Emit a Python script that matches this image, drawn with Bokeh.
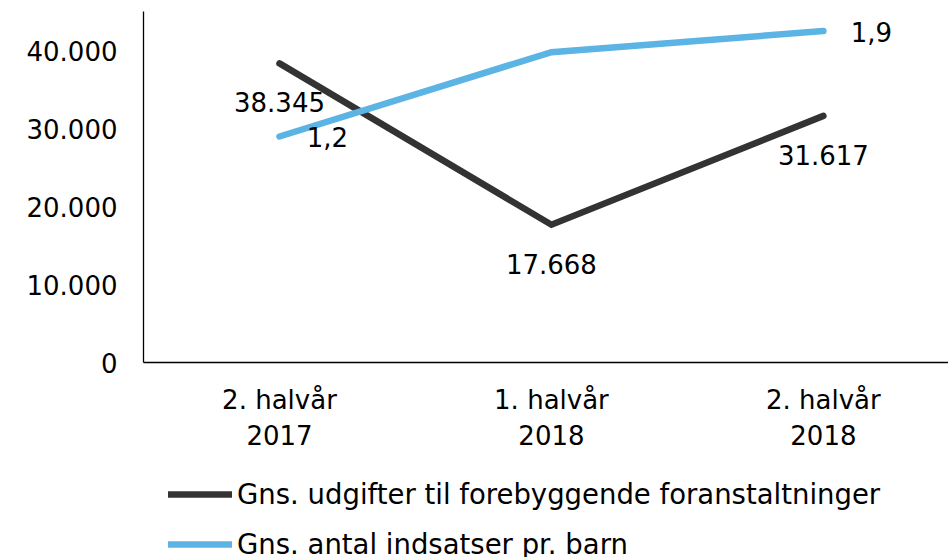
from bokeh.plotting import figure
from bokeh.layouts import column
from bokeh.models import (Range1d, FixedTicker, Legend, LegendItem,
                          ColumnDataSource, LabelSet)
from bokeh.core.properties import value
from bokeh.embed import file_html
from bokeh.resources import INLINE

categories = ["2. halvår\n2017", "1. halvår\n2018", "2. halvår\n2018"]
udgifter = [38345, 17668, 31617]
udgifter_labels = ["38.345", "17.668", "31.617"]
indsatser = [1.2, 1.76, 1.9]
indsatser_labels = ["1,2", "", "1,9"]
y_ticks = [0, 10000, 20000, 30000, 40000]
y_tick_labels = ["0", "10.000", "20.000", "30.000", "40.000"]
series_names = ["Gns. udgifter til forebyggende foranstaltninger",
                "Gns. antal indsatser pr. barn"]

FONT = "DejaVu Sans"
BLACK = "#333333"
BLUE = "#5BB4E4"
LW = 6.5

xs = [i + 0.5 for i in range(len(categories))]

p = figure(width=948, height=465, output_backend="svg", toolbar_location=None,
           x_range=Range1d(0, 2.96), y_range=Range1d(0, 45000),
           min_border_left=143, min_border_right=0, min_border_top=11,
           min_border_bottom=103)
p.extra_y_ranges = {"right": Range1d(-0.3007, 2.030)}
p.outline_line_color = None
p.xgrid.visible = False
p.ygrid.visible = False
p.background_fill_color = "white"
p.border_fill_color = "white"

src1 = ColumnDataSource(dict(x=xs, y=udgifter, lab=udgifter_labels))
src2 = ColumnDataSource(dict(x=xs, y=indsatser, lab=indsatser_labels))

p.line("x", "y", source=src1, line_color=BLACK, line_width=LW,
       line_cap="round", line_join="miter")
p.line("x", "y", source=src2, line_color=BLUE, line_width=LW,
       line_cap="round", line_join="miter", y_range_name="right")

l1 = LabelSet(x="x", y="y", text="lab", source=src1, y_offset=-39,
              text_align="center", text_baseline="middle",
              text_font=value(FONT), text_font_size=value("26px"),
              text_color="black")
l2 = LabelSet(x="x", y="y", text="lab", source=src2, x_offset=48, y_offset=-1,
              text_align="center", text_baseline="middle",
              text_font=value(FONT), text_font_size=value("26px"),
              text_color="black", y_range_name="right")
p.add_layout(l1)
p.add_layout(l2)

for ax in (p.xaxis[0], p.yaxis[0]):
    ax.axis_line_color = "black"
    ax.axis_line_width = 1.3
    ax.major_tick_line_color = None
    ax.minor_tick_line_color = None
    ax.major_label_text_font = FONT
    ax.major_label_text_font_size = "26px"
    ax.major_label_text_color = "black"

p.yaxis[0].ticker = FixedTicker(ticks=y_ticks)
p.yaxis[0].major_label_overrides = {t: s for t, s in zip(y_ticks, y_tick_labels)}
p.yaxis[0].major_label_standoff = 20

p.xaxis[0].ticker = FixedTicker(ticks=xs)
p.xaxis[0].major_label_overrides = {x: c for x, c in zip(xs, categories)}
p.xaxis[0].major_label_standoff = 16

# legend strip below the chart (its renderers hold data outside the view)
pl = figure(width=948, height=92, output_backend="svg", toolbar_location=None,
            x_range=Range1d(0, 1), y_range=Range1d(0, 1),
            x_axis_type=None, y_axis_type=None,
            min_border=0, outline_line_color=None)
pl.xgrid.visible = False
pl.ygrid.visible = False
lr1 = pl.line(x=[5, 6], y=[5, 6], line_color=BLACK, line_width=LW, line_cap="round")
lr2 = pl.line(x=[5, 6], y=[5, 6], line_color=BLUE, line_width=LW, line_cap="round")
legend = Legend(items=[LegendItem(label=series_names[0], renderers=[lr1]),
                       LegendItem(label=series_names[1], renderers=[lr2])],
                location=(25, -12), orientation="vertical",
                label_text_font=FONT, label_text_font_size="27.5px",
                label_text_color="black",
                glyph_width=64, glyph_height=50, label_height=50,
                label_standoff=5, spacing=0, padding=0, margin=0,
                border_line_color=None, background_fill_alpha=0)
pl.add_layout(legend, "center")

layout = column(p, pl, spacing=0)
open("out.html", "w").write(file_html(layout, INLINE))
